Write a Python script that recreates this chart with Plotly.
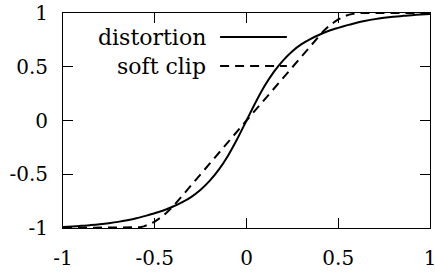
import plotly.graph_objects as go

# distortion curve, odd-symmetric
pos_x = [0.0, 0.05, 0.1, 0.15, 0.2, 0.25, 0.3, 0.35, 0.4, 0.45, 0.5, 0.55, 0.6, 0.65, 0.7, 0.75, 0.8, 0.85, 0.9, 0.95, 1.0]
pos_y = [0.0, 0.17, 0.325, 0.455, 0.56, 0.645, 0.71, 0.76, 0.80, 0.835, 0.862, 0.887, 0.91, 0.928, 0.943, 0.955, 0.965, 0.973, 0.98, 0.985, 0.99]
dist_x = [-v for v in pos_x[:0:-1]] + pos_x
dist_y = [-v for v in pos_y[:0:-1]] + pos_y

# soft clip curve
soft_x = [-1.0, -0.62, -0.6, -0.58, -0.56, -0.54, -0.52, -0.5, -0.48, -0.46, -0.44, -0.42, -0.4, 0.0,
          0.4, 0.42, 0.44, 0.46, 0.48, 0.5, 0.52, 0.54, 0.56, 0.58, 0.6, 0.62, 1.0]
soft_y = [-1.0, -1.0, -0.998, -0.993, -0.985, -0.973, -0.958, -0.94, -0.918, -0.893, -0.864, -0.833, -0.8, 0.0,
          0.8, 0.833, 0.864, 0.893, 0.918, 0.94, 0.958, 0.973, 0.985, 0.993, 0.998, 1.0, 1.0]

tick_vals = [-1, -0.5, 0, 0.5, 1]
tick_text = ["-1", "-0.5", "0", "0.5", "1"]
series_names = ["distortion", "soft clip"]

FONT = "DejaVu Serif"

fig = go.Figure()
fig.add_trace(go.Scatter(x=dist_x, y=dist_y, mode="lines", name=series_names[0],
                         line=dict(color="black", width=2, shape="spline", smoothing=0.8),
                         showlegend=False, hoverinfo="skip"))
fig.add_trace(go.Scatter(x=soft_x, y=soft_y, mode="lines", name=series_names[1],
                         line=dict(color="black", width=2, dash="9px,6px"),
                         showlegend=False, hoverinfo="skip"))

axis_common = dict(
    showline=True, linecolor="black", linewidth=1, mirror="ticks",
    ticks="inside", ticklen=10, tickwidth=1, tickcolor="black",
    showgrid=False, zeroline=False, automargin=False, ticklabeloverflow="allow",
    tickfont=dict(family=FONT, size=20, color="black"),
    tickmode="array", tickvals=tick_vals, ticktext=tick_text,
)
fig.update_xaxes(range=[-1, 1], ticklabelstandoff=12, **axis_common)
fig.update_yaxes(range=[-1, 1], ticklabelstandoff=10, **axis_common)

# legend (gnuplot style: text left, sample right)
leg_y = [0.888, 0.753]
leg_dash = ["solid", "9px,6px"]
for name, yy, dsh in zip(series_names, leg_y, leg_dash):
    fig.add_annotation(xref="paper", yref="paper", x=0.395, y=yy, text=name,
                       showarrow=False, xanchor="right", yanchor="middle",
                       font=dict(family=FONT, size=22, color="black"))
    fig.add_shape(type="line", xref="paper", yref="paper", x0=0.428, x1=0.610, y0=yy, y1=yy,
                  line=dict(color="black", width=2, dash=dsh))

fig.update_layout(
    width=435, height=273,
    margin=dict(l=63, r=5, t=13, b=45),
    paper_bgcolor="white", plot_bgcolor="white",
    showlegend=False, hovermode=False,
    font=dict(family=FONT, color="black"),
)
fig.write_html("out.html", config={"displayModeBar": False, "staticPlot": True},
               post_script="document.body.style.margin='0';document.body.style.padding='0';")
